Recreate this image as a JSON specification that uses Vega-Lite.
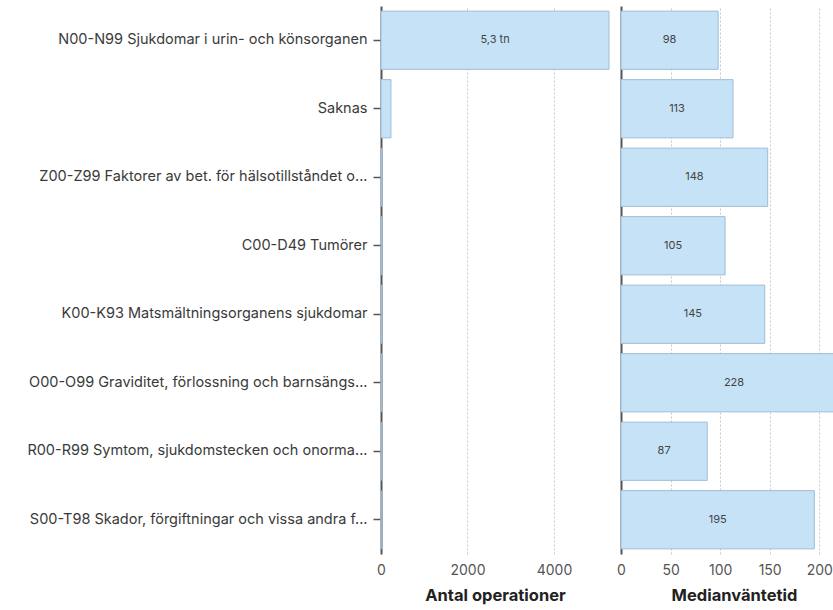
{
  "$schema": "https://vega.github.io/schema/vega-lite/v6.json",
  "padding": {"left": 26, "top": 6, "right": 0, "bottom": 5},
  "background": "white",
  "data": {
    "values": [
      {"diagnos": "N00-N99 Sjukdomar i urin- och könsorganen", "antal": 5272, "median": 98},
      {"diagnos": "Saknas", "antal": 230, "median": 113},
      {"diagnos": "Z00-Z99 Faktorer av bet. för hälsotillståndet o...", "antal": 18, "median": 148},
      {"diagnos": "C00-D49 Tumörer", "antal": 14, "median": 105},
      {"diagnos": "K00-K93 Matsmältningsorganens sjukdomar", "antal": 12, "median": 145},
      {"diagnos": "O00-O99 Graviditet, förlossning och barnsängs...", "antal": 9, "median": 228},
      {"diagnos": "R00-R99 Symtom, sjukdomstecken och onorma...", "antal": 7, "median": 87},
      {"diagnos": "S00-T98 Skador, förgiftningar och vissa andra f...", "antal": 5, "median": 195}
    ]
  },
  "spacing": 6,
  "hconcat": [
    {
      "width": 228,
      "height": 548,
      "encoding": {
        "y": {
          "field": "diagnos", "type": "nominal", "sort": null, "title": null,
          "scale": {"paddingInner": 0.15, "paddingOuter": 0.075},
          "axis": {"labelLimit": 450, "labelFontSize": 14.5, "labelColor": "#3a3a3a", "labelPadding": 6, "tickSize": 8, "tickColor": "#555", "domainColor": "#555", "domainWidth": 2, "tickWidth": 1.5}
        }
      },
      "layer": [
        {
          "mark": {"type": "bar", "fill": "#c6e2f7", "stroke": "#9dbdd8", "strokeWidth": 1},
          "encoding": {
            "x": {
              "field": "antal", "type": "quantitative", "title": "Antal operationer",
              "scale": {"domain": [0, 5272], "nice": false},
              "axis": {"values": [0, 2000, 4000], "format": "d"}
            }
          }
        },
        {
          "transform": [
            {"filter": "datum.antal >= 1000"},
            {"calculate": "replace(format(datum.antal / 1000, '.1f'), '.', ',') + ' tn'", "as": "etikett"}
          ],
          "mark": {"type": "text", "fontSize": 11, "color": "#444"},
          "encoding": {
            "x": {"datum": 2636, "type": "quantitative"},
            "text": {"field": "etikett"}
          }
        }
      ]
    },
    {
      "width": 226,
      "height": 548,
      "encoding": {
        "y": {
          "field": "diagnos", "type": "nominal", "sort": null, "title": null,
          "scale": {"paddingInner": 0.15, "paddingOuter": 0.075},
          "axis": {"labels": false, "ticks": false, "domainColor": "#555", "domainWidth": 2}
        }
      },
      "layer": [
        {
          "mark": {"type": "bar", "fill": "#c6e2f7", "stroke": "#9dbdd8", "strokeWidth": 1},
          "encoding": {
            "x": {
              "field": "median", "type": "quantitative", "title": "Medianväntetid",
              "scale": {"domain": [0, 228], "nice": false},
              "axis": {"values": [0, 50, 100, 150, 200], "format": "d"}
            }
          }
        },
        {
          "transform": [{"calculate": "datum.median / 2", "as": "mitt"}],
          "mark": {"type": "text", "fontSize": 11, "color": "#444"},
          "encoding": {
            "x": {"field": "mitt", "type": "quantitative"},
            "text": {"field": "median", "type": "quantitative"}
          }
        }
      ]
    }
  ],
  "config": {
    "font": "Inter",
    "view": {"stroke": null},
    "axisX": {
      "grid": true, "gridDash": [2, 2], "gridColor": "#c8c8c8", "gridWidth": 1,
      "domain": false, "ticks": false, "tickSize": 0, "labelFlush": false,
      "labelFontSize": 14, "labelColor": "#555", "labelPadding": 9,
      "titleFontSize": 16.5, "titleFontWeight": "bold", "titleColor": "#222", "titlePadding": 10
    },
    "axisY": {"grid": false}
  }
}
